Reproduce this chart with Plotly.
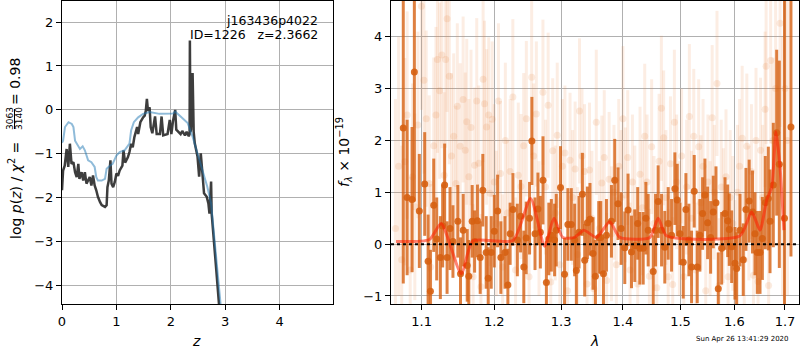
import plotly.graph_objects as go
import numpy as np

# ---------------- left panel data: log p(z) and chi2 curves ----------------
pz_z = [0.000, 0.020, 0.050, 0.085, 0.115, 0.145, 0.175, 0.210, 0.240, 0.270, 0.300, 0.320,
        0.360, 0.390, 0.420, 0.450, 0.510, 0.540, 0.570, 0.600, 0.630, 0.660, 0.700, 0.730,
        0.790, 0.820, 0.835, 0.860, 0.890, 0.910, 0.940, 0.970, 1.000, 1.030, 1.060, 1.110,
        1.130, 1.160, 1.210, 1.240, 1.270, 1.300, 1.330, 1.380, 1.400, 1.440, 1.490, 1.520,
        1.540, 1.560, 1.580, 1.610, 1.630, 1.660, 1.710, 1.740, 1.800, 1.830, 1.860, 1.940,
        1.980, 2.010, 2.040, 2.080, 2.100, 2.150, 2.180, 2.210, 2.260, 2.290, 2.330, 2.345,
        2.350, 2.360, 2.370, 2.400, 2.420, 2.440, 2.490, 2.520, 2.550, 2.580, 2.610, 2.660,
        2.690, 2.710, 2.740, 2.750, 2.780, 2.830, 2.890]
pz_logp = [-1.83, -1.38, -1.27, -0.89, -1.30, -0.77, -1.23, -1.19, -1.42, -1.53, -1.23, -1.57,
           -1.42, -1.61, -1.42, -1.68, -1.53, -1.72, -1.49, -1.72, -1.83, -1.98, -2.10, -2.17,
           -2.21, -2.17, -1.76, -1.61, -1.15, -1.68, -1.76, -1.64, -1.45, -1.50, -1.38, -1.27,
           -0.92, -1.20, -1.08, -0.96, -0.77, -0.85, -0.62, -0.39, -0.55, -0.28, -0.17, -0.13,
           -0.02, 0.25, -0.02, 0.06, -0.39, -0.53, -0.15, -0.55, -0.55, -0.15, -0.58, -0.55,
           -0.23, -0.55, -0.25, 0.00, -0.45, -0.50, -0.55, -0.48, -0.58, -0.50, -0.60, -0.55,
           1.58, -0.50, -0.45, 0.84, -0.50, -0.76, -1.06, -1.52, -0.99, -1.44, -1.90, -1.98,
           -2.13, -2.36, -1.63, -2.36, -2.89, -3.57, -4.50]

chi_z = [0.000, 0.020, 0.055, 0.120, 0.180, 0.210, 0.240, 0.300, 0.330, 0.380, 0.420, 0.480,
         0.540, 0.600, 0.630, 0.660, 0.730, 0.790, 0.820, 0.880, 0.930, 1.000, 1.060, 1.150,
         1.240, 1.270, 1.320, 1.400, 1.490, 1.610, 1.790, 2.040, 2.080, 2.180, 2.310, 2.400,
         2.490, 2.580, 2.670, 2.740, 2.800, 2.860, 2.920]
chi_logp = [-0.75, -0.70, -0.39, -0.28, -0.32, -0.39, -0.70, -0.81, -0.89, -0.83, -0.92, -1.15,
            -1.19, -1.30, -1.53, -1.61, -1.61, -1.57, -1.34, -1.27, -1.23, -1.04, -0.96, -0.92,
            -0.77, -0.47, -0.28, -0.17, -0.09, -0.05, -0.09, -0.08, -0.04, -0.15, -0.30, -0.61,
            -0.99, -1.37, -1.75, -2.13, -2.89, -3.65, -4.50]

# ---------------- right panel data: spectrum ----------------
dark_wave = [1.0760, 1.0810, 1.0874, 1.0904, 1.0969, 1.1040, 1.1085, 1.1116, 1.1160, 1.1200,
             1.1249, 1.1280, 1.1307, 1.1340, 1.1380, 1.1420, 1.1487, 1.1524, 1.1561, 1.1617,
             1.1639, 1.1686, 1.1720, 1.1760, 1.1799, 1.1836, 1.1884, 1.1913, 1.1956, 1.2000,
             1.2048, 1.2095, 1.2155, 1.2197, 1.2230, 1.2271, 1.2336, 1.2384, 1.2432, 1.2468,
             1.2518, 1.2553, 1.2600, 1.2644, 1.2681, 1.2721, 1.2773, 1.2810, 1.2849, 1.2899,
             1.2925, 1.2991, 1.3054, 1.3106, 1.3160, 1.3213, 1.3240, 1.3282, 1.3336, 1.3373,
             1.3416, 1.3458, 1.3507, 1.3546, 1.3600, 1.3633, 1.3677, 1.3726, 1.3808, 1.3863,
             1.3918, 1.3970, 1.4031, 1.4086, 1.4144, 1.4200, 1.4250, 1.4286, 1.4344, 1.4390,
             1.4430, 1.4517, 1.4558, 1.4603, 1.4663, 1.4720, 1.4780, 1.4840, 1.4899, 1.4941,
             1.4990, 1.5049, 1.5097, 1.5151, 1.5200, 1.5248, 1.5303, 1.5352, 1.5402, 1.5445,
             1.5495, 1.5551, 1.5600, 1.5651, 1.5694, 1.5758, 1.5821, 1.5872, 1.5902, 1.5948,
             1.6011, 1.6044, 1.6108, 1.6171, 1.6223, 1.6286, 1.6351, 1.6400, 1.6445, 1.6499,
             1.6545, 1.6604, 1.6664, 1.6698, 1.6764, 1.6832, 1.6885, 1.6990, 1.7122]
dark_flux = [2.24, 0.90, 0.86, 3.32, 0.64, 1.16, -0.33, -0.91, 0.75, 0.10,
             -0.26, 0.35, 1.14, -0.26, 0.30, 0.05, 0.44, -0.57, 0.27, -0.41,
             -0.62, 0.44, 0.05, 0.45, -0.26, 1.04, -0.16, -0.66, -0.16, 0.25,
             0.64, -0.26, -0.16, -0.79, 0.20, 0.67, 0.08, 0.54, -0.44, 0.12,
             0.50, 1.99, 0.20, 0.68, 0.23, 1.23, -0.74, 0.10, 0.17, 0.08,
             0.27, 1.09, -0.58, 0.38, 0.38, 0.08, -0.51, 0.23, 0.96, -0.31,
             0.41, 0.48, -0.18, -0.62, 0.13, 0.13, -0.57, 0.17, 0.44, 1.23,
             0.78, 0.30, -0.07, 0.66, -0.15, -0.03, 0.40, -0.08, -0.08, 0.50,
             0.27, -0.53, 0.27, 0.82, 0.27, -0.06, 0.40, 0.17, 1.07, 0.85,
             0.20, -0.35, 0.67, 0.08, -0.44, 1.02, -0.44, 0.17, 0.59, 0.95,
             0.41, 0.13, 0.62, 0.80, -0.86, -0.08, 0.59, 0.45, 0.28, -0.05,
             -0.37, -0.47, 0.27, -0.30, 0.67, 0.83, 0.62, 0.20, -0.16, -0.16,
             0.11, 0.80, 0.88, 0.44, 1.14, 2.15, 1.54, 0.50, 2.26]
dark_err = [3.00, 1.50, 1.40, 2.50, 1.10, 1.00, 0.90, 0.80, 0.90, 0.80,
            0.80, 0.80, 0.80, 0.70, 0.80, 0.70, 0.70, 0.70, 0.70, 0.70,
            0.70, 0.70, 0.60, 0.70, 0.70, 0.70, 0.70, 0.60, 0.70, 0.70,
            0.70, 0.70, 0.70, 0.70, 0.60, 0.70, 0.70, 0.70, 0.70, 0.70,
            0.70, 0.85, 0.70, 0.70, 0.70, 0.85, 0.80, 0.70, 0.70, 0.70,
            0.70, 0.80, 0.70, 0.70, 0.70, 0.70, 0.70, 0.70, 0.80, 0.70,
            0.70, 0.70, 0.70, 0.70, 0.70, 0.70, 0.70, 0.70, 0.70, 0.80,
            0.70, 0.70, 0.70, 0.70, 0.70, 0.70, 0.70, 0.70, 0.70, 0.70,
            0.70, 0.70, 0.70, 0.70, 0.70, 0.70, 0.70, 0.70, 0.70, 0.70,
            0.60, 0.70, 0.70, 0.70, 0.70, 0.70, 0.70, 0.70, 0.70, 0.70,
            0.70, 0.70, 0.70, 0.70, 0.70, 0.70, 0.70, 0.70, 0.70, 0.70,
            0.70, 0.70, 0.70, 0.70, 0.80, 0.80, 0.80, 0.80, 0.80, 0.80,
            0.80, 0.90, 1.00, 1.00, 1.20, 1.60, 2.00, 5.00, 2.50]

faint_wave = [1.066, 1.070, 1.074, 1.078, 1.081, 1.085, 1.088, 1.091, 1.095, 1.0996,
              1.103, 1.106, 1.110, 1.112, 1.116, 1.119, 1.121, 1.124, 1.127, 1.130,
              1.132, 1.134, 1.137, 1.140, 1.143, 1.146, 1.148, 1.152, 1.156, 1.159,
              1.161, 1.164, 1.167, 1.170, 1.172, 1.175, 1.178, 1.181, 1.184, 1.186,
              1.189, 1.192, 1.194, 1.197, 1.200, 1.203, 1.206, 1.209, 1.212, 1.216,
              1.219, 1.223, 1.227, 1.231, 1.235, 1.239, 1.243, 1.247, 1.251, 1.255,
              1.258, 1.262, 1.266, 1.272, 1.276, 1.280, 1.284, 1.287, 1.291, 1.294,
              1.298, 1.302, 1.306, 1.310, 1.314, 1.318, 1.322, 1.326, 1.329, 1.333,
              1.337, 1.341, 1.345, 1.349, 1.352, 1.356, 1.361, 1.365, 1.369, 1.373,
              1.377, 1.381, 1.385, 1.389, 1.393, 1.397, 1.400, 1.404, 1.408, 1.412,
              1.416, 1.420, 1.425, 1.429, 1.433, 1.437, 1.441, 1.445, 1.449, 1.453,
              1.458, 1.462, 1.466, 1.470, 1.474, 1.478, 1.482, 1.486, 1.489, 1.493,
              1.498, 1.502, 1.506, 1.511, 1.516, 1.520, 1.524, 1.528, 1.533, 1.537,
              1.541, 1.546, 1.550, 1.554, 1.558, 1.562, 1.567, 1.571, 1.575, 1.579,
              1.584, 1.588, 1.592, 1.597, 1.601, 1.606, 1.610, 1.615, 1.619, 1.624,
              1.628, 1.633, 1.637, 1.642, 1.646, 1.651, 1.655, 1.660, 1.662, 1.667,
              1.671, 1.676, 1.681, 1.690, 1.695, 1.700, 1.705]
faint_flux = [0.30, 1.50, -0.30, 1.59, 2.49, -0.50, 1.30, 0.72, 2.30, 4.59,
              3.16, 2.42, 1.17, -0.44, 1.90, 2.49, 3.56, 2.96, 3.65, 1.33,
              3.56, 4.35, 3.24, 1.70, 2.08, 1.17, 2.66, 1.89, 2.79, 1.81,
              2.36, 1.30, 2.25, -0.63, 1.52, 2.76, 1.56, -0.82, 3.18, 2.71,
              2.26, 2.49, 0.98, 2.41, 1.20, 0.40, 2.76, 1.36, -0.44, 2.00,
              0.60, 1.40, 2.84, -0.50, 1.33, 1.11, 1.90, 2.42, -0.63, 3.22,
              1.70, 2.51, 0.30, 2.93, 1.10, 2.68, -0.73, 1.80, 0.60, 2.10,
              -0.40, 1.50, 1.76, -0.90, 1.62, 0.90, 1.45, -0.20, 2.57, 1.70,
              1.40, -0.77, 1.43, 0.50, -0.86, 2.35, 0.30, 1.18, 1.67, -0.70,
              1.25, 0.20, 1.00, -0.40, 1.50, 0.90, 2.42, 0.95, 1.67, -0.50,
              1.20, 0.60, -0.77, 1.35, 0.70, 2.08, 1.20, -0.62, 1.88, 0.40,
              -0.84, 1.60, 2.62, 2.05, 0.90, -0.63, 1.55, -0.78, 2.35, 1.20,
              0.30, 1.70, -0.63, 1.10, 2.46, 0.50, 2.08, -0.50, 1.88, 0.80,
              1.50, -0.90, 1.20, 0.30, 2.44, 1.00, 3.10, -0.80, 1.10, 0.55,
              1.30, -0.63, 0.90, 0.40, -0.45, 1.00, 1.50, 2.04, -0.30, 1.89,
              0.60, 1.40, -0.60, 2.00, -0.72, 1.81, 0.90, 2.60, 3.43, -0.80,
              3.54, 2.00, 3.00, 4.26, 1.50, 3.00, 2.00]
faint_err = [2.5, 2.5, 2.2, 2.0, 2.0, 1.8, 1.8, 1.8, 1.8, 2.0,
             1.8, 1.7, 1.7, 1.6, 1.7, 1.7, 1.8, 1.7, 1.8, 1.6,
             1.7, 1.8, 1.7, 1.6, 1.6, 1.5, 1.6, 1.6, 1.6, 1.5,
             1.6, 1.5, 1.5, 1.4, 1.5, 1.6, 1.5, 1.4, 1.6, 1.6,
             1.5, 1.5, 1.4, 1.5, 1.5, 1.4, 1.5, 1.4, 1.4, 1.5,
             1.4, 1.4, 1.5, 1.4, 1.4, 1.4, 1.4, 1.5, 1.4, 1.5,
             1.4, 1.4, 1.3, 1.4, 1.3, 1.4, 1.3, 1.4, 1.3, 1.4,
             1.3, 1.3, 1.3, 1.3, 1.3, 1.3, 1.3, 1.3, 1.4, 1.3,
             1.3, 1.3, 1.3, 1.3, 1.3, 1.4, 1.3, 1.3, 1.3, 1.3,
             1.3, 1.3, 1.3, 1.3, 1.3, 1.3, 1.4, 1.3, 1.3, 1.3,
             1.3, 1.3, 1.3, 1.3, 1.3, 1.4, 1.3, 1.3, 1.3, 1.3,
             1.3, 1.3, 1.4, 1.3, 1.3, 1.3, 1.3, 1.3, 1.4, 1.3,
             1.3, 1.3, 1.3, 1.3, 1.4, 1.3, 1.3, 1.3, 1.3, 1.3,
             1.3, 1.3, 1.3, 1.3, 1.4, 1.3, 1.4, 1.3, 1.3, 1.3,
             1.3, 1.3, 1.3, 1.3, 1.3, 1.3, 1.3, 1.4, 1.3, 1.4,
             1.3, 1.3, 1.3, 1.4, 1.3, 1.4, 1.4, 1.5, 1.5, 1.5,
             1.6, 1.6, 1.8, 2.0, 2.5, 2.5, 3.0]

model_wave = [1.0667, 1.1103, 1.1260, 1.1534, 1.1695, 1.2271, 1.2534, 1.2747, 1.2889, 1.3027,
              1.3213, 1.3357, 1.3563, 1.3780, 1.3947, 1.4459, 1.4603, 1.4751, 1.6108, 1.6335,
              1.6499, 1.6632, 1.6732, 1.6818, 1.6899, 1.6978]
model_flux = [0.05, 0.09, 0.40, -0.57, 0.06, 0.07, 0.88, -0.04, 0.50, 0.13,
              0.13, 0.27, 0.13, 0.43, 0.13, 0.13, 0.50, 0.16, 0.16, 0.62,
              0.27, 0.85, 1.10, 2.17, 1.49, 0.27]

lam_ticks = [1.1, 1.2, 1.3, 1.4, 1.5, 1.6, 1.7]
lam_ticktext = ["1.1", "1.2", "1.3", "1.4", "1.5", "1.6", "1.7"]

# ---------------- figure ----------------
W, H = 800, 350
fig = go.Figure()

fig.add_trace(go.Scatter(x=pz_z, y=pz_logp, mode="lines", xaxis="x", yaxis="y",
                         line=dict(color="rgba(40,40,40,0.9)", width=2.5), showlegend=False))
fig.add_trace(go.Scatter(x=chi_z, y=chi_logp, mode="lines", xaxis="x", yaxis="y",
                         line=dict(color="rgba(31,119,180,0.5)", width=2), showlegend=False))

fig.add_trace(go.Scatter(x=faint_wave, y=faint_flux, mode="markers", xaxis="x2", yaxis="y2",
                         marker=dict(color="rgba(232,130,60,0.16)", size=7),
                         error_y=dict(type="data", array=faint_err, visible=True, width=0,
                                      thickness=3, color="rgba(232,130,60,0.14)"),
                         showlegend=False))
fig.add_trace(go.Scatter(x=dark_wave, y=dark_flux, mode="markers", xaxis="x2", yaxis="y2",
                         marker=dict(color="rgba(214,96,18,0.9)", size=7),
                         error_y=dict(type="data", array=dark_err, visible=True, width=0,
                                      thickness=3, color="rgba(214,96,18,0.8)"),
                         showlegend=False))
fig.add_trace(go.Scatter(x=model_wave, y=model_flux, mode="lines", xaxis="x2", yaxis="y2",
                         line=dict(color="rgba(255,30,0,0.55)", width=3, shape="spline", smoothing=0.6),
                         showlegend=False))
fig.add_shape(type="line", xref="x2 domain", yref="y2", x0=0, x1=1, y0=0, y1=0,
              line=dict(color="black", width=2, dash="dot"))

axis_common = dict(showline=True, linecolor="black", linewidth=1, mirror=True,
                   showgrid=True, gridcolor="#b0b0b0", gridwidth=1,
                   ticks="outside", ticklen=5, tickcolor="black", tickwidth=1,
                   zeroline=False, automargin=False,
                   tickfont=dict(family="DejaVu Sans", size=13, color="black"))

fig.update_layout(
    width=W, height=H, margin=dict(l=0, r=0, t=0, b=0, autoexpand=False),
    paper_bgcolor="white", plot_bgcolor="white",
    font=dict(family="DejaVu Sans", size=13, color="black"),
    xaxis=dict(domain=[62 / W, 333 / W], range=[0, 4.98], anchor="y",
               tickvals=[0, 1, 2, 3, 4], **axis_common),
    yaxis=dict(domain=[1 - 304 / H, 1 - 1 / H], range=[-4.42, 2.48], anchor="x",
               tickvals=[-4, -3, -2, -1, 0, 1, 2], **axis_common),
    xaxis2=dict(domain=[391 / W, 799 / W], type="log",
                range=[np.log10(1.0603), np.log10(1.7288)], anchor="y2",
                tickvals=lam_ticks, ticktext=lam_ticktext, **axis_common),
    yaxis2=dict(domain=[1 - 304 / H, 1 - 1 / H], range=[-1.155, 4.69], anchor="x2",
                tickvals=[-1, 0, 1, 2, 3, 4], **axis_common),
)

ann = [
    dict(text="<i>z</i>", x=196 / W, y=1 - 341 / H, font=dict(size=14)),
    dict(text="<i>λ</i>", x=594 / W, y=1 - 341 / H, font=dict(size=14)),
    # left y-axis label, split so the fraction can be stacked
    dict(text="log <i>p</i>(<i>z</i>) / <i>χ</i><sup>2</sup> =", x=15 / W, y=1 - 191 / H,
         textangle=-90, font=dict(size=14)),
    dict(text="3063", x=10 / W, y=1 - 119 / H, textangle=-90, font=dict(size=9)),
    dict(text="3140", x=19 / W, y=1 - 119 / H, textangle=-90, font=dict(size=9)),
    dict(text="= 0.98", x=15 / W, y=1 - 82 / H, textangle=-90, font=dict(size=14)),
    dict(text="<i>f</i><sub><i>λ</i></sub> × 10<sup>−19</sup>", x=344 / W, y=1 - 152 / H,
         textangle=-90, font=dict(size=14)),
    dict(text="Sun Apr 26 13:41:29 2020", x=742 / W, y=1 - 339 / H, font=dict(size=7)),
    dict(text="j163436p4022", x=320 / W, y=1 - 20 / H, xanchor="right", font=dict(size=12.5)),
    dict(text="ID=1226\u00a0\u00a0\u00a0z=2.3662", x=320 / W, y=1 - 35 / H, xanchor="right",
         font=dict(size=12.5)),
]
for a in ann:
    a.setdefault("xanchor", "center")
    fig.add_annotation(xref="paper", yref="paper", showarrow=False, yanchor="middle", **a)

# fraction bar of the stacked 3063/3140
fig.add_shape(type="line", xref="paper", yref="paper", x0=14.5 / W, x1=14.5 / W,
              y0=1 - 109 / H, y1=1 - 129 / H, line=dict(color="black", width=1))

fig.write_html("out.html", config={"displayModeBar": False},
               post_script="document.body.style.margin='0';document.body.style.overflow='hidden';")
